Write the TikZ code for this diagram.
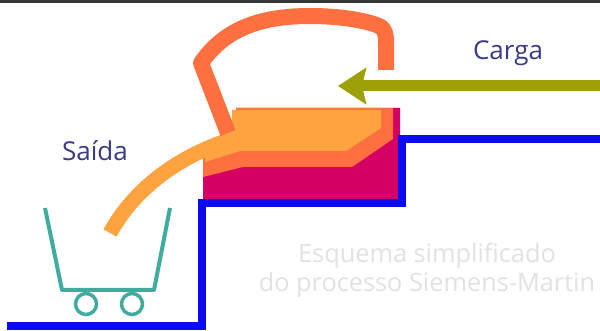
\documentclass[tikz,border=0pt]{standalone}
\usepackage{fontspec}
\setmainfont{Open Sans}
\usetikzlibrary{arrows.meta}

\definecolor{floorblue}{RGB}{10,10,245}
\definecolor{bathred}{RGB}{214,0,100}
\definecolor{coral}{RGB}{255,112,64}
\definecolor{melt}{RGB}{255,162,64}
\definecolor{olive}{RGB}{158,160,8}
\definecolor{cartteal}{RGB}{64,172,158}
\definecolor{labelblue}{RGB}{58,58,140}
\definecolor{captiongray}{RGB}{226,226,226}
\definecolor{framegray}{RGB}{55,55,55}

\tikzset{
  floorline/.style={draw=floorblue, line width=8pt, miter limit=4},
  cartline/.style={draw=cartteal, line width=4pt, line join=round},
  wheel/.style={draw=cartteal, line width=3.5pt, circle, minimum size=21pt, inner sep=0pt},
  pipe/.style={line width=16pt, line cap=butt, line join=round},
  label/.style={text=labelblue, font=\fontsize{26}{30}\selectfont},
  caption/.style={text=captiongray, align=center, font=\fontsize{25.3}{29}\selectfont}
}

\begin{document}
\begin{tikzpicture}[x=1pt, y=-1pt]
  % canvas
  \useasboundingbox (0,0) rectangle (600,331);
  \fill[white] (0,0) rectangle (600,331);
  \fill[framegray] (0,0) rectangle (600,3.5);

  % furnace hearth: bath, slag band and molten charge
  \fill[bathred] (203,200) -- (400,200) -- (400,108) -- (236,108)
                 -- (236,140) -- (203,155) -- cycle;
  \fill[coral] (203,177) -- (243,167) -- (352,167) -- (393,139) -- (393,108)
               -- (236,108) -- (236,140) -- (203,155) -- cycle;
  \fill[melt] (232,110) -- (381,110) -- (381,128) -- (346,151) -- (240,151)
              -- (205,162) -- (205,145) -- (232,132) -- cycle;
  % tapping spout
  \draw[pipe, melt, line width=15pt] (110,233) .. controls (128,200) and (165,160) .. (235,138);
  % regenerator flue
  \draw[pipe, coral] (228,133) -- (201,63)
        .. controls (225,28) and (262,16) .. (310,16)
        .. controls (345,16) and (372,22) .. (381,27)
        .. controls (385,30) and (386,35) .. (386,42) -- (386,70);

  % floor and furnace step
  \coordinate (f0) at (7,326);
  \coordinate (f1) at (202,326);
  \coordinate (f2) at (202,203);
  \coordinate (f3) at (402,203);
  \coordinate (f4) at (402,139);
  \coordinate (f5) at (600,139);
  \draw[floorline] (f0) -- (f1) -- (f2) -- (f3) -- (f4) -- (f5);

  % ladle cart
  \coordinate (c1) at (45,208);
  \coordinate (c2) at (62,290);
  \coordinate (c3) at (154,290);
  \coordinate (c4) at (170,208);
  \draw[cartline] (c1) -- (c2) -- (c3) -- (c4);
  \node[wheel] (w1) at (86,304) {};
  \node[wheel] (w2) at (132,304) {};

  % charging arrow
  \coordinate (chargeIn) at (600,86);
  \coordinate (chargeTip) at (338,86);
  \draw[olive, line width=11pt, -{Stealth[length=28pt, width=36pt, inset=4pt]}]
       (chargeIn) -- (chargeTip);

  % labels
  \node[label, anchor=base] (carga) at (508,60) {Carga};
  \node[label, anchor=base] (saida) at (95,161) {Saída};
  \node[caption, anchor=north] (caption) at (427,240)
       {Esquema simplificado\\do processo Siemens-Martin};
\end{tikzpicture}
\end{document}
